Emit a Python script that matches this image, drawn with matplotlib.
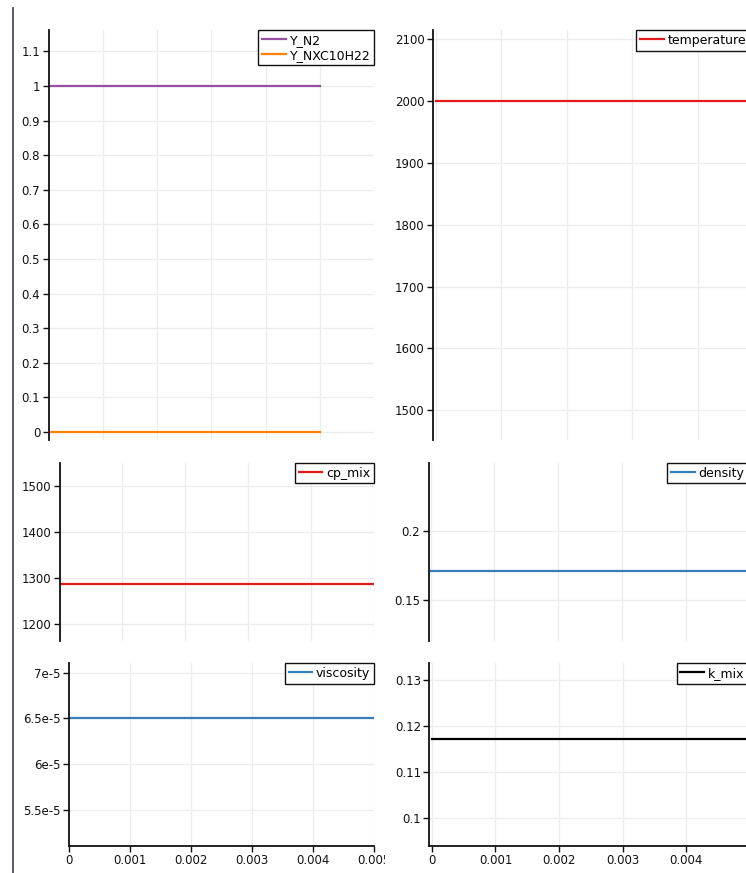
import matplotlib
matplotlib.use("Agg")
import matplotlib.pyplot as plt
from matplotlib.lines import Line2D
from matplotlib.transforms import Bbox, TransformedBbox

# ---------------- data ----------------
x_vals = [0.0, 0.005]
y_n2 = [1.0, 1.0]
y_nxc10h22 = [0.0, 0.0]
temperature = [2000.0, 2000.0]
cp_mix = [1286.0, 1286.0]
density = [0.1711, 0.1711]
viscosity = [6.5e-5, 6.5e-5]
k_mix = [0.1171, 0.1171]

yticks_species = [0, 0.1, 0.2, 0.3, 0.4, 0.5, 0.6, 0.7, 0.8, 0.9, 1, 1.1]
ylabels_species = ["0", "0.1", "0.2", "0.3", "0.4", "0.5", "0.6", "0.7", "0.8", "0.9", "1", "1.1"]
yticks_temp = [1500, 1600, 1700, 1800, 1900, 2000, 2100]
yticks_cp = [1200, 1300, 1400, 1500]
yticks_rho = [0.15, 0.2]
ylabels_rho = ["0.15", "0.2"]
yticks_mu = [5.5e-5, 6e-5, 6.5e-5, 7e-5]
ylabels_mu = ["5.5e-5", "6e-5", "6.5e-5", "7e-5"]
yticks_k = [0.1, 0.11, 0.12, 0.13]
ylabels_k = ["0.1", "0.11", "0.12", "0.13"]
xticks_left = [0, 0.001, 0.002, 0.003, 0.004, 0.005]
xlabels_left = ["0", "0.001", "0.002", "0.003", "0.004", "0.005"]
xticks_right = [0, 0.001, 0.002, 0.003, 0.004]
xlabels_right = ["0", "0.001", "0.002", "0.003", "0.004"]

C_PURPLE = "#984ea3"
C_ORANGE = "#ff7f00"
C_RED = "#e41a1c"
C_BLUE = "#377eb8"
C_BLACK = "#000000"

W, H = 746, 873
fig = plt.figure(figsize=(W / 100, H / 100), dpi=100)
fig.patch.set_facecolor("white")
plt.rcParams["font.family"] = ["DejaVu Sans"]

def make_ax(l, r, t, b):
    return fig.add_axes([l / W, 1 - b / H, (r - l) / W, (b - t) / H])

def style(ax, xlim, ylim, yticks, ylabels=None, xt=None, xl=None, bottom=False, clip_right=None):
    ax.set_xlim(*xlim)
    ax.set_ylim(*ylim)
    for s in ["top", "right"]:
        ax.spines[s].set_visible(False)
    ax.spines["left"].set_linewidth(1.3)
    ax.spines["left"].set_color("#111111")
    ax.spines["bottom"].set_visible(bottom)
    ax.spines["bottom"].set_linewidth(1.3)
    ax.spines["bottom"].set_color("#111111")
    ax.set_xticks(xt)
    ax.set_yticks(yticks)
    if ylabels is not None:
        ax.set_yticklabels(ylabels)
    if bottom:
        ax.set_xticklabels(xl)
    else:
        ax.tick_params(axis="x", length=0, labelbottom=False)
    ax.tick_params(axis="y", length=4, width=1, pad=2, labelsize=8.5, colors="#111111")
    ax.tick_params(axis="x", length=4 if bottom else 0, width=1, pad=2, labelsize=8.5, colors="#111111")
    ax.grid(True, color="#ececec", linewidth=0.9)
    ax.set_axisbelow(True)
    ax.patch.set_alpha(0)
    if clip_right is not None:
        bb = TransformedBbox(Bbox([[0, 0], [clip_right / W, 1]]), fig.transFigure)
        for lab in ax.get_xticklabels():
            lab.set_clip_box(bb)
            lab.set_clip_on(True)

def legend(ax):
    lg = ax.legend(loc="upper right", borderaxespad=0, frameon=True, fancybox=False,
                   fontsize=9, handlelength=1.9, handletextpad=0.3, borderpad=0.3,
                   labelspacing=0.15)
    fr = lg.get_frame()
    fr.set_edgecolor("#111111")
    fr.set_linewidth(1.0)
    fr.set_facecolor("white")
    fr.set_alpha(1)
    return lg

lw = 1.6

# Top-left: species
ax1 = make_ax(48.5, 374, 30, 440)
ax1.plot(x_vals, y_n2, color=C_PURPLE, lw=lw, label="Y_N2")
ax1.plot(x_vals, y_nxc10h22, color=C_ORANGE, lw=lw, label="Y_NXC10H22")
style(ax1, (0, 0.006), (-0.023, 1.162), yticks_species, ylabels_species, xt=xticks_left)
legend(ax1)

# Top-right: temperature
ax2 = make_ax(433, 750, 30, 440)
ax2.plot(x_vals, temperature, color=C_RED, lw=lw, label="temperature")
style(ax2, (-0.00004, 0.0048), (1452, 2115), yticks_temp, xt=xticks_right)
legend(ax2)

# Middle-left: cp_mix
ax3 = make_ax(59.5, 374, 463, 641)
ax3.plot(x_vals, cp_mix, color=C_RED, lw=lw, label="cp_mix")
style(ax3, (0, 0.005), (1162, 1551), yticks_cp, xt=xticks_left)
legend(ax3)

# Middle-right: density
ax4 = make_ax(428.7, 748, 463, 641)
ax4.plot(x_vals, density, color=C_BLUE, lw=lw, label="density")
style(ax4, (-0.00003, 0.00497), (0.1204, 0.2488), yticks_rho, ylabels_rho, xt=xticks_right)
legend(ax4)

# Bottom-left: viscosity
ax5 = make_ax(69.3, 374, 663, 845.7)
ax5.plot(x_vals, viscosity, color=C_BLUE, lw=lw, label="viscosity")
style(ax5, (0, 0.005), (5.11e-5, 7.106e-5), yticks_mu, ylabels_mu, xt=xticks_left, xl=xlabels_left,
      bottom=True, clip_right=385)
legend(ax5)

# Bottom-right: k_mix
ax6 = make_ax(429.3, 748, 663, 845.7)
ax6.plot(x_vals, k_mix, color=C_BLACK, lw=lw, label="k_mix")
style(ax6, (-0.00004, 0.00497), (0.094, 0.1337), yticks_k, ylabels_k, xt=xticks_right, xl=xlabels_right,
      bottom=True)
legend(ax6)

# separator line at the left
fig.add_artist(Line2D([13.3 / W, 13.3 / W], [0, 1 - 8 / H], transform=fig.transFigure,
                      color="#4b4a63", lw=1.3))

fig.savefig("out.png", dpi=100)
